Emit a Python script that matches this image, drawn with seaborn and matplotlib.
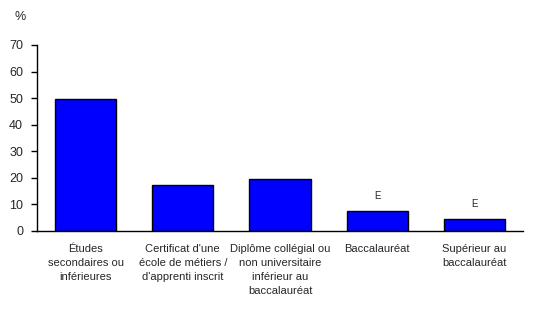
import matplotlib
matplotlib.use("Agg")
import matplotlib.pyplot as plt
import seaborn as sns
import pandas as pd

categories = ["Études\nsecondaires ou\ninférieures",
              "Certificat d'une\nécole de métiers /\nd'apprenti inscrit",
              "Diplôme collégial ou\nnon universitaire\ninférieur au\nbaccalauréat",
              "Baccalauréat",
              "Supérieur au\nbaccalauréat"]
values = [49.8, 17.3, 19.7, 7.4, 4.4]
flags = ["", "", "", "E", "E"]
yticks = [0, 10, 20, 30, 40, 50, 60, 70]

sns.set_style("white")
plt.rcParams['font.family'] = ['Liberation Sans', 'DejaVu Sans']

df = pd.DataFrame({"cat": categories, "val": values})
fig = plt.figure(figsize=(5.6, 3.1), dpi=100)
ax = fig.add_axes([0.066, 0.255, 0.868, 0.6])
sns.barplot(data=df, x="cat", y="val", color="#0000FF", saturation=1,
            edgecolor="black", linewidth=1, width=0.63, ax=ax)
for p, f in zip(ax.patches, flags):
    if f:
        ax.annotate(f, (p.get_x() + p.get_width() / 2, p.get_height()),
                    xytext=(0, 7.5), textcoords="offset points",
                    ha="center", va="bottom", fontsize=7)
ax.set_ylim(0, 70)
ax.set_xlim(-0.5, 4.5)
ax.set_yticks(yticks)
ax.set_xlabel("")
ax.set_ylabel("")
for s in ["top", "right"]:
    ax.spines[s].set_visible(False)
for s in ["left", "bottom"]:
    ax.spines[s].set_color("black")
    ax.spines[s].set_linewidth(1)
ax.tick_params(axis="y", left=True, length=4, width=1, color="black", labelsize=9, pad=6)
ax.tick_params(axis="x", bottom=False, labelsize=8, pad=6)
for lab in ax.get_xticklabels():
    lab.set_linespacing(1.5)
fig.text(20 / 560, 1 - 17 / 310, "%", fontsize=9, ha="center", va="center")
fig.savefig("out.png", dpi=100)
